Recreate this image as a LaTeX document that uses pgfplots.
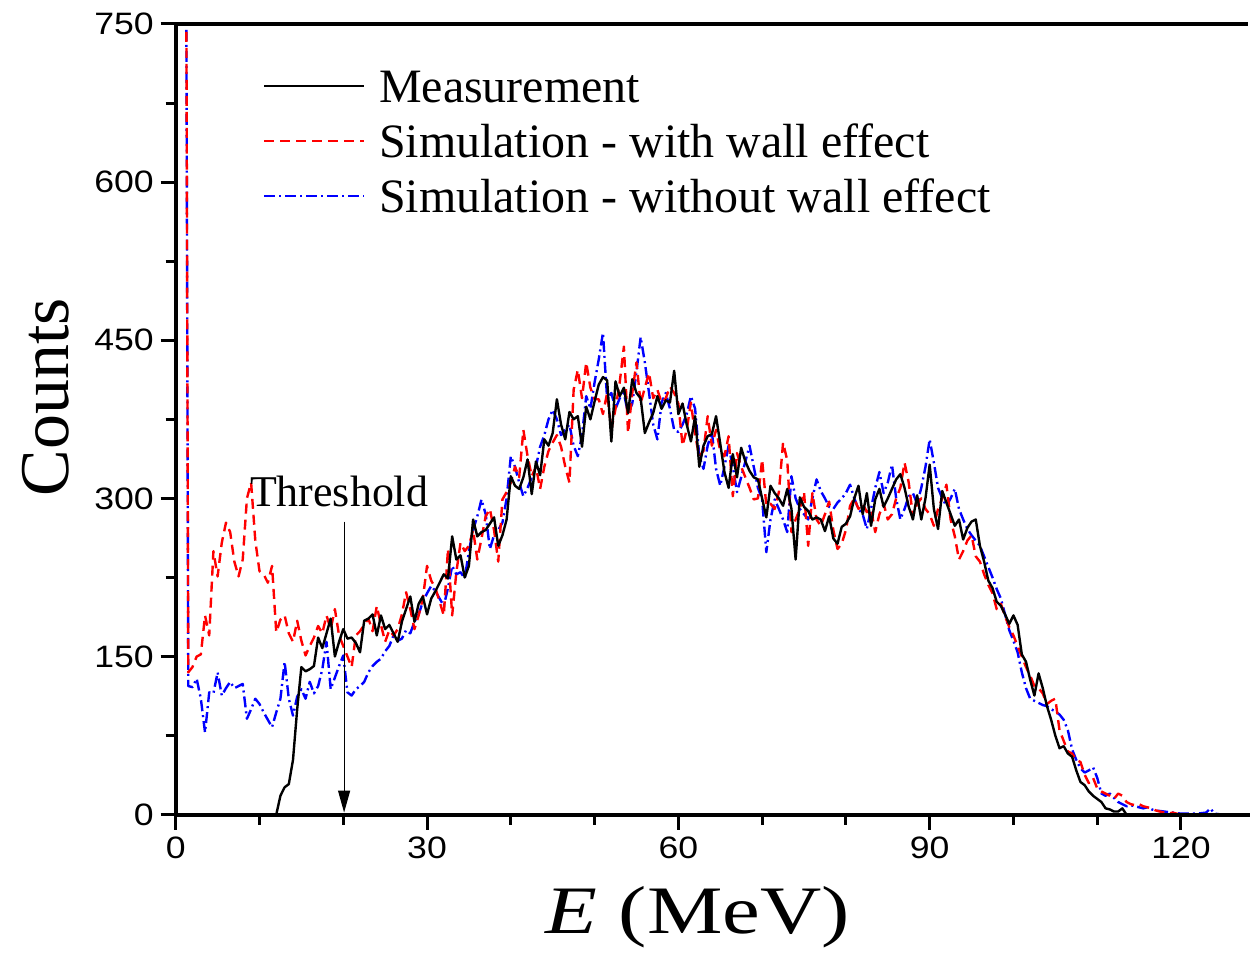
\documentclass[border=0pt]{standalone}
\usepackage{fontspec}
\setmainfont{Liberation Serif}
\newfontfamily\arialfont{Liberation Sans}
\usepackage{pgfplots}
\pgfplotsset{compat=1.18}
\usepackage{pgfplotstable}
\usetikzlibrary{arrows.meta}

% measured spectrum
\pgfplotstableread{
E C
12.0 0
12.5 18
13.0 26
13.5 29
14.0 52
14.5 100
15.0 140
15.5 136
16.0 138
16.5 141
17.0 168
17.5 158
18.0 172
18.5 186
19.0 150
19.5 164
20.0 176
20.5 167
21.0 168
21.5 163
22.0 154
22.5 184
23.0 186
23.5 190
24.0 170
24.5 189
25.0 176
25.5 180
26.0 172
26.5 164
27.0 183
27.5 195
28.0 207
28.5 183
29.0 200
29.5 207
30.0 190
30.5 205
31.0 212
31.5 220
32.0 228
32.5 224
33.0 264
33.5 242
34.0 246
34.5 225
35.0 236
35.5 280
36.0 264
36.5 268
37.0 270
37.5 276
38.0 282
38.5 255
39.0 265
39.5 280
40.0 321
40.5 312
41.0 309
41.5 320
42.0 337
42.5 304
43.0 335
43.5 322
44.0 356
44.5 350
45.0 362
45.5 394
46.0 370
46.5 356
47.0 382
47.5 375
48.0 378
48.5 349
49.0 387
49.5 375
50.0 392
50.5 408
51.0 415
51.5 412
52.0 354
52.5 411
53.0 397
53.5 405
54.0 381
54.5 413
55.0 400
55.5 395
56.0 362
56.5 372
57.0 381
57.5 397
58.0 385
58.5 393
59.0 391
59.5 421
60.0 380
60.5 390
61.0 370
61.5 354
62.0 378
62.5 330
63.0 350
63.5 359
64.0 361
64.5 378
65.0 352
65.5 325
66.0 310
66.5 342
67.0 320
67.5 348
68.0 335
68.5 326
69.0 320
69.5 318
70.0 300
70.5 282
71.0 312
71.5 305
72.0 300
72.5 293
73.0 309
73.5 290
74.0 242
74.5 301
75.0 292
75.5 288
76.0 280
76.5 282
77.0 280
77.5 269
78.0 283
78.5 262
79.0 257
79.5 273
80.0 276
80.5 283
81.0 300
81.5 312
82.0 285
82.5 305
83.0 274
83.5 299
84.0 309
84.5 292
85.0 300
85.5 309
86.0 318
86.5 323
87.0 310
87.5 292
88.0 280
88.5 303
89.0 280
89.5 300
90.0 332
90.5 290
91.0 271
91.5 307
92.0 296
92.5 285
93.0 274
93.5 280
94.0 261
94.5 272
95.0 278
95.5 280
96.0 255
96.5 240
97.0 222
97.5 215
98.0 202
98.5 198
99.0 190
99.5 181
100.0 189
100.5 180
101.0 152
101.5 145
102.0 128
102.5 113
103.0 134
103.5 120
104.0 103
104.5 90
105.0 75
105.5 63
106.0 65
106.5 58
107.0 55
107.5 42
108.0 31
108.5 28
109.0 22
109.5 18
110.0 15
110.5 12
111.0 6
111.5 5
112.0 3
112.5 3
113.0 6
113.5 0
114.0 0
}\measured

% simulation with wall effect
\pgfplotstableread{
E C
1.0 1500
1.5 135
2.0 140
2.5 150
3.0 152
3.5 189
4.0 170
4.5 250
5.0 226
5.5 258
6.0 277
6.5 268
7.0 240
7.5 226
8.0 242
8.5 300
9.0 315
9.5 260
10.0 231
10.5 228
11.0 220
11.5 236
12.0 173
12.5 185
13.0 189
13.5 172
14.0 164
14.5 184
15.0 165
15.5 151
16.0 160
16.5 168
17.0 179
17.5 172
18.0 189
18.5 176
19.0 195
19.5 170
20.0 160
20.5 150
21.0 140
21.5 170
22.0 174
22.5 180
23.0 186
23.5 174
24.0 198
24.5 180
25.0 164
25.5 175
26.0 170
26.5 176
27.0 190
27.5 211
28.0 195
28.5 176
29.0 189
29.5 205
30.0 236
30.5 222
31.0 215
31.5 202
32.0 189
32.5 252
33.0 189
33.5 230
34.0 258
34.5 250
35.0 255
35.5 270
36.0 242
36.5 262
37.0 283
37.5 290
38.0 270
38.5 240
39.0 299
39.5 306
40.0 315
40.5 330
41.0 320
41.5 365
42.0 340
42.5 321
43.0 330
43.5 309
44.0 330
44.5 345
45.0 353
45.5 360
46.0 349
46.5 330
47.0 315
47.5 403
48.0 422
48.5 395
49.0 429
49.5 405
50.0 394
50.5 394
51.0 380
51.5 400
52.0 365
52.5 385
53.0 410
53.5 444
54.0 362
54.5 400
55.0 429
55.5 390
56.0 405
56.5 419
57.0 395
57.5 403
58.0 391
58.5 395
59.0 406
59.5 400
60.0 390
60.5 350
61.0 365
61.5 391
62.0 360
62.5 340
63.0 345
63.5 378
64.0 350
64.5 365
65.0 345
65.5 340
66.0 359
66.5 302
67.0 343
67.5 330
68.0 320
68.5 310
69.0 299
69.5 300
70.0 337
70.5 293
71.0 295
71.5 290
72.0 306
72.5 353
73.0 336
73.5 268
74.0 280
74.5 290
75.0 306
75.5 255
76.0 305
76.5 280
77.0 274
77.5 285
78.0 297
78.5 270
79.0 252
79.5 257
80.0 270
80.5 293
81.0 300
81.5 290
82.0 295
82.5 287
83.0 290
83.5 268
84.0 285
84.5 295
85.0 280
85.5 285
86.0 300
86.5 310
87.0 334
87.5 315
88.0 283
88.5 295
89.0 300
89.5 290
90.0 285
90.5 274
91.0 290
91.5 300
92.0 313
92.5 280
93.0 264
93.5 242
94.0 250
94.5 260
95.0 265
95.5 245
96.0 240
96.5 228
97.0 218
97.5 210
98.0 195
98.5 200
99.0 188
99.5 178
100.0 170
100.5 160
101.0 150
101.5 140
102.0 132
102.5 122
103.0 120
103.5 115
104.0 105
104.5 108
105.0 110
105.5 80
106.0 70
106.5 60
107.0 58
107.5 52
108.0 50
108.5 38
109.0 30
109.5 35
110.0 25
110.5 22
111.0 20
111.5 18
112.0 15
112.5 20
113.0 18
113.5 12
114.0 10
114.5 9
115.0 10
115.5 8
116.0 7
116.5 6
117.0 4
117.5 3
118.0 2
118.5 1
119.0 2
120.0 0
121.0 0
122.0 0
123.0 0
124.0 0
125.0 0
126.0 0
127.0 0
128.0 0
}\withwall

% simulation without wall effect
\pgfplotstableread{
E C
1.0 1500
1.5 122
2.0 121
2.5 129
3.0 110
3.5 78
4.0 116
4.5 115
5.0 135
5.5 113
6.0 120
6.5 126
7.0 120
7.5 122
8.0 124
8.5 91
9.0 100
9.5 110
10.0 105
10.5 97
11.0 90
11.5 83
12.0 97
12.5 110
13.0 145
13.5 110
14.0 94
14.5 112
15.0 119
15.5 110
16.0 126
16.5 115
17.0 122
17.5 138
18.0 164
18.5 119
19.0 130
19.5 141
20.0 151
20.5 116
21.0 113
21.5 119
22.0 122
22.5 126
23.0 135
23.5 141
24.0 145
24.5 148
25.0 155
25.5 160
26.0 170
26.5 165
27.0 167
27.5 175
28.0 172
28.5 183
29.0 190
29.5 202
30.0 210
30.5 217
31.0 212
31.5 205
32.0 198
32.5 215
33.0 236
33.5 228
34.0 230
34.5 224
35.0 250
35.5 270
36.0 283
36.5 299
37.0 285
37.5 252
38.0 265
38.5 270
39.0 277
39.5 300
40.0 340
40.5 330
41.0 315
41.5 302
42.0 310
42.5 320
43.0 330
43.5 349
44.0 360
44.5 375
45.0 384
45.5 375
46.0 360
46.5 365
47.0 370
47.5 350
48.0 340
48.5 360
49.0 397
49.5 385
50.0 410
50.5 432
51.0 457
51.5 394
52.0 400
52.5 385
53.0 395
53.5 400
54.0 380
54.5 390
55.0 420
55.5 453
56.0 429
56.5 400
57.0 370
57.5 356
58.0 391
58.5 400
59.0 385
59.5 365
60.0 363
60.5 370
61.0 380
61.5 397
62.0 385
62.5 340
63.0 328
63.5 350
64.0 363
64.5 328
65.0 312
65.5 330
66.0 350
66.5 330
67.0 306
67.5 320
68.0 335
68.5 350
69.0 330
69.5 310
70.0 299
70.5 249
71.0 280
71.5 299
72.0 290
72.5 280
73.0 268
73.5 321
74.0 300
74.5 290
75.0 285
75.5 280
76.0 300
76.5 318
77.0 307
77.5 300
78.0 292
78.5 290
79.0 296
79.5 300
80.0 305
80.5 313
81.0 300
81.5 290
82.0 285
82.5 271
83.0 290
83.5 310
84.0 325
84.5 305
85.0 315
85.5 332
86.0 300
86.5 280
87.0 290
87.5 302
88.0 305
88.5 295
89.0 310
89.5 330
90.0 356
90.5 334
91.0 310
91.5 300
92.0 293
92.5 300
93.0 309
93.5 290
94.0 280
94.5 271
95.0 265
95.5 260
96.0 255
96.5 245
97.0 235
97.5 225
98.0 214
98.5 205
99.0 190
99.5 175
100.0 165
100.5 154
101.0 135
101.5 120
102.0 110
102.5 108
103.0 106
103.5 104
104.0 103
104.5 100
105.0 98
105.5 95
106.0 90
106.5 80
107.0 62
107.5 52
108.0 44
108.5 40
109.0 42
109.5 45
110.0 35
110.5 20
111.0 18
111.5 20
112.0 16
112.5 12
113.0 10
113.5 8
114.0 9
114.5 8
115.0 7
115.5 6
116.0 7
116.5 5
117.0 4
118.0 3
119.0 2
120.0 1
121.0 1
122.0 1
123.0 2
123.5 6
124.0 1
125.0 0
126.0 0
127.0 0
128.0 0
}\nowall

\begin{document}
\begin{tikzpicture}
\begin{axis}[
    name=ax,
    scale only axis,
    width=537pt, height=396pt,
    xmin=0, xmax=128,
    ymin=0, ymax=750,
    xtick={0,30,60,90,120},
    ytick={0,150,300,450,600,750},
    minor x tick num=2,
    minor y tick num=1,
    tick align=outside,
    tick pos=left,
    major tick length=7.5pt,
    minor tick length=5pt,
    every tick/.style={black, line width=1.5pt},
    axis line style={draw=none},
    extra description/.code={
        \draw[line width=2pt, line cap=rect] (0,1) -- (0,0) -- (1,0);
        \draw[line width=2pt] (0,1) -- (1,1);
    },
    /pgf/number format/assume math mode=true,
    ticklabel style={font=\arialfont\fontsize{15.5}{15.5}\selectfont},
    xticklabel={\scalebox{1.15}[1]{\pgfmathprintnumber{\tick}}},
    yticklabel={\scalebox{1.15}[1]{\pgfmathprintnumber{\tick}}},
    xlabel={\scalebox{1.25}[1]{\textit{E} (MeV)}},
    ylabel={Counts},
    every axis x label/.style={at={(axis description cs:0.487,-0.130)}, anchor=center, font=\fontsize{34}{34}\selectfont},
    every axis y label/.style={at={(axis description cs:-0.121,0.528)}, rotate=90, anchor=center, font=\fontsize{35}{35}\selectfont},
    legend image code/.code={\draw[#1] (0pt,0pt) -- (50pt,0pt);},
    legend style={draw=none, fill=none, inner sep=0pt,
        at={(axis description cs:0.081,0.946)}, anchor=north west,
        font=\fontsize{24}{24}\selectfont, row sep=8.5pt, column sep=6pt,
        nodes={inner sep=1pt, text height=17pt, text depth=0pt}},
    legend cell align=left,
    reverse legend,
]
\addplot[blue, line width=1.2pt, line join=round, dash pattern=on 5.5pt off 2pt on 1pt off 2pt] table[x=E, y=C] {\nowall};
\addplot[red, line width=1.2pt, line join=round, dash pattern=on 5pt off 3pt] table[x=E, y=C] {\withwall};
\addplot[black, line width=1.2pt, line join=round] table[x=E, y=C] {\measured};
\legend{Simulation - without wall effect, Simulation - with wall effect, Measurement}
\node[font=\fontsize{22}{22}\selectfont] at (axis cs:19.5,307) {Threshold};
\draw[line width=0.6pt, -{Triangle[length=11pt,width=6pt]}] (axis cs:20.1,278) -- (axis cs:20.1,2);
\end{axis}
\path ([xshift=-88pt,yshift=-64.5pt]ax.south west) rectangle ([yshift=12pt]ax.north east);
\end{tikzpicture}
\end{document}
